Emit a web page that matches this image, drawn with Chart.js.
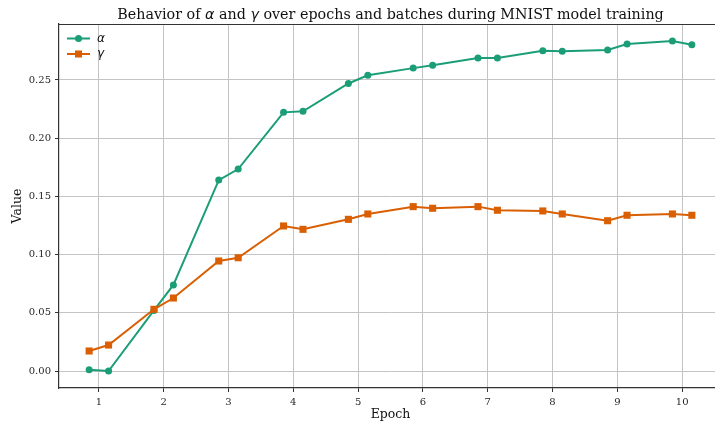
<!DOCTYPE html>
<html>
<head>
<meta charset="utf-8">
<script src="https://cdn.jsdelivr.net/npm/chart.js@4"></script>
<style>
html,body{margin:0;padding:0;background:#fff;overflow:hidden;width:715px;height:423px;}
#wrap{width:727px;height:423px;position:relative;}
</style>
</head>
<body>
<div id="wrap"><canvas id="c" width="727" height="423"></canvas></div>
<script>
// x positions: two measurements per epoch (mid-epoch batches)
const xPositions = [0.85,1.15,1.85,2.15,2.85,3.15,3.85,4.15,4.85,5.15,5.85,6.15,6.85,7.15,7.85,8.15,8.85,9.15,9.85,10.15];
const alphaValues = [0.0011,0.0000,0.0520,0.0739,0.1640,0.1735,0.2222,0.2231,0.2470,0.2541,0.2602,0.2627,0.2689,0.2689,0.2752,0.2747,0.2758,0.2809,0.2835,0.2803];
const gammaValues = [0.0172,0.0223,0.0530,0.0627,0.0945,0.0973,0.1246,0.1217,0.1303,0.1349,0.1412,0.1398,0.1412,0.1381,0.1375,0.1349,0.1291,0.1338,0.1349,0.1338];
const xTickValues = [1,2,3,4,5,6,7,8,9,10];
const yTickValues = [0.00,0.05,0.10,0.15,0.20,0.25];
const seriesLabels = ['α','γ'];
const titleParts = [['Behavior of ',false],['α',true],[' and ',false],['γ',true],[' over epochs and batches during MNIST model training',false]];
const xLabel = 'Epoch';
const yLabel = 'Value';

const GREEN = '#1b9e77', ORANGE = '#d95f02';
const SERIF = "'DejaVu Serif', serif";
const MATH = "'DejaVu Sans', sans-serif";
const TXT = '#262626', SPINE = '#333333', GRID = '#c4c4c4';

const toPts = ys => ys.map((y,i)=>({x:xPositions[i], y}));

const overlay = {
  id:'overlay',
  afterDraw(chart){
    const ctx = chart.ctx, a = chart.chartArea;
    const cx = (a.left + a.right) / 2;
    ctx.save();
    // top spine
    ctx.strokeStyle = SPINE; ctx.lineWidth = 1.2;
    ctx.beginPath(); ctx.moveTo(a.left, a.top+0.5); ctx.lineTo(a.right, a.top+0.5); ctx.stroke();
    // title (mixed fonts for the Greek symbols)
    ctx.fillStyle = '#111'; ctx.textBaseline = 'alphabetic'; ctx.textAlign = 'left';
    const fontFor = it => it ? `italic 14.3px ${MATH}` : `14.3px ${SERIF}`;
    let total = 0;
    titleParts.forEach(([t,it])=>{ ctx.font = fontFor(it); total += ctx.measureText(t).width; });
    let x = cx - total/2;
    titleParts.forEach(([t,it])=>{
      ctx.font = fontFor(it);
      ctx.fillText(t, x, 18.5);
      x += ctx.measureText(t).width;
    });
    // axis labels
    ctx.fillStyle = '#111';
    ctx.font = `12.5px ${SERIF}`; ctx.textAlign = 'center';
    ctx.fillText(xLabel, cx, 418);
    ctx.save(); ctx.translate(21, (a.top + a.bottom)/2); ctx.rotate(-Math.PI/2);
    ctx.fillText(yLabel, 0, 0); ctx.restore();
    // legend
    const items = [[GREEN,'circle',38.5],[ORANGE,'rect',54]];
    items.forEach(([col,shape,y],i)=>{
      ctx.strokeStyle = col; ctx.lineWidth = 2;
      ctx.beginPath(); ctx.moveTo(67,y); ctx.lineTo(90,y); ctx.stroke();
      ctx.fillStyle = col;
      if(shape==='circle'){ ctx.beginPath(); ctx.arc(78.5,y,3.5,0,Math.PI*2); ctx.fill(); }
      else { ctx.fillRect(75,y-3.5,7,7); }
      ctx.fillStyle = '#111'; ctx.textAlign='left'; ctx.textBaseline='middle';
      ctx.font = `italic 12px ${MATH}`;
      ctx.fillText(seriesLabels[i], 97, y);
    });
    ctx.restore();
  }
};

new Chart(document.getElementById('c'), {
  type:'line',
  data:{
    datasets:[
      {label:seriesLabels[0], data:toPts(alphaValues), borderColor:GREEN, backgroundColor:GREEN,
       borderWidth:2, pointStyle:'circle', pointRadius:3.5, pointBorderWidth:0, tension:0, order:1},
      {label:seriesLabels[1], data:toPts(gammaValues), borderColor:ORANGE, backgroundColor:ORANGE,
       borderWidth:2, pointStyle:'rect', pointRadius:5, pointBorderWidth:0, tension:0, order:0}
    ]
  },
  options:{
    responsive:false, animation:false, devicePixelRatio:1,
    layout:{padding:{top:24,left:0,right:0,bottom:0}},
    plugins:{legend:{display:false}, title:{display:false}, tooltip:{enabled:false}},
    scales:{
      x:{type:'linear', min:0.385, max:10.615,
        afterBuildTicks:s=>{ s.ticks = xTickValues.map(v=>({value:v})); },
        afterFit:s=>{ s.height = 35; s.paddingLeft = 0; s.paddingRight = 0; },
        ticks:{color:TXT, font:{family:SERIF,size:10}, padding:4, maxRotation:0, autoSkip:false, callback:v=>String(v)},
        grid:{color:GRID, lineWidth:1, tickLength:4, tickColor:SPINE, tickWidth:1},
        border:{color:SPINE, width:1.2}
      },
      y:{type:'linear', min:-0.0146, max:0.2981,
        afterBuildTicks:s=>{ s.ticks = yTickValues.map(v=>({value:v})); },
        afterFit:s=>{ s.width = 59; },
        ticks:{color:TXT, font:{family:SERIF,size:10}, padding:4, callback:v=>Number(v).toFixed(2)},
        grid:{color:GRID, lineWidth:1, tickLength:4, tickColor:SPINE, tickWidth:1},
        border:{color:SPINE, width:1.2}
      }
    }
  },
  plugins:[overlay]
});
</script>
</body>
</html>
